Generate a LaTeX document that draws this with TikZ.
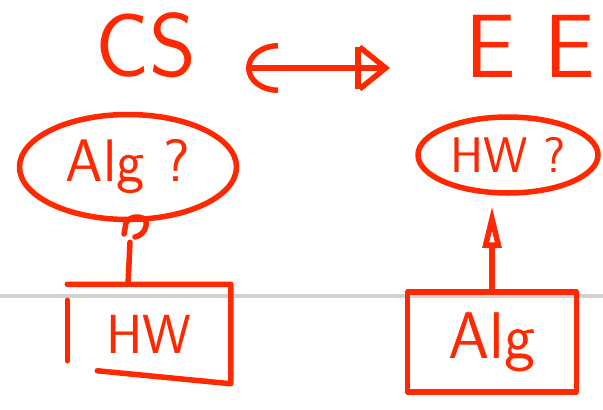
\documentclass[tikz,border=0pt]{standalone}
\usepackage{fontspec}
\usetikzlibrary{arrows.meta,calc,shapes.geometric,positioning}
\definecolor{pen}{RGB}{255,40,0}
\definecolor{rule}{RGB}{210,210,210}

\begin{document}
\begin{tikzpicture}[x=1pt,y=-1pt,line width=5.5pt,color=pen,line cap=round,line join=round,
    title/.style={font=\fontsize{90}{90}\selectfont\sffamily},
    blob/.style={ellipse,draw,inner sep=0pt},
    box/.style={rectangle,inner sep=0pt}]
  \useasboundingbox (0,0) rectangle (603,410);
  % page rule behind the ink
  \draw[rule,line width=4pt,line cap=butt] (0,296) -- (603,296);

  \node[title] (cs) at (146,45) {CS};
  \node[title] (ee) at (530,46) {E E};
  \coordinate (swl) at (246,68);
  \coordinate (swr) at (390,68);

  \node[blob,minimum width=217pt,minimum height=105pt,font=\fontsize{60}{60}\selectfont\sffamily] (algq) at (128,167) {Alg ?};
  \node[blob,minimum width=180pt,minimum height=76pt,font=\fontsize{50}{50}\selectfont\sffamily] (hwq) at (508,155) {HW ?};
  \node[box,minimum width=158pt,minimum height=94pt,font=\fontsize{55}{55}\selectfont\sffamily] (hw) at (149,334) {HW};
  \node[box,draw,minimum width=169pt,minimum height=100pt,font=\fontsize{66}{66}\selectfont\sffamily] (alg) at (492,342) {Alg};

  % open box around HW
  \draw (hw.north west) -- (hw.north east) -- (hw.south east) -- ($(hw.south west)+(30,-13)$);
  \draw ($(hw.north west)+(0,16)$) -- ($(hw.south west)+(0,-23)$);

  \draw[{Arc Barb[length=32pt,width=50pt]}-{Bar[width=42pt,sep=-4pt] Straight Barb[length=26pt,width=42pt]}] (swl) -- (swr);

  \path (hw.north -| algq.south) edge ++(2,-42);
  \draw (124,234) -- (126,223) .. controls (130,214) and (149,215) .. (146,226)
        .. controls (145,232) and (140,236) .. (135,237);
  \draw[-{Triangle[open,length=42pt,width=18pt]},shorten >=10pt] (alg.north) -- (hwq.south -| alg.north);
\end{tikzpicture}
\end{document}
